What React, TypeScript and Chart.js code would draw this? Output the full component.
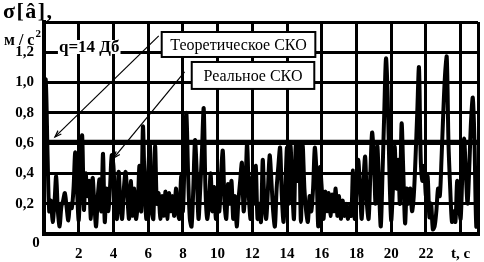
import React, { useEffect, useRef } from 'react';
import { Chart, registerables } from 'chart.js';

Chart.register(...registerables);

// ---- data ----
const TIME_STEP = 0.1;
const realSko = [
  0.98, 1.02, 0.55, 0.15, 0.22, 0.08, 0.20, 0.38, 0.15, 0.05,
  0.18, 0.22, 0.27, 0.18, 0.09, 0.20, 0.17, 0.30, 0.54, 0.30,
  0.09, 0.40, 0.65, 0.16, 0.40, 0.25, 0.35, 0.10, 0.37, 0.20,
  0.05, 0.25, 0.36, 0.15, 0.53, 0.08, 0.30, 0.15, 0.30, 0.52,
  0.45, 0.20, 0.10, 0.41, 0.20, 0.10, 0.30, 0.41, 0.25, 0.10,
  0.35, 0.12, 0.30, 0.10, 0.20, 0.45, 0.15, 0.71, 0.30, 0.10,
  0.40, 0.59, 0.15, 0.10, 0.58, 0.20, 0.27, 0.10, 0.25, 0.12,
  0.28, 0.10, 0.27, 0.15, 0.25, 0.12, 0.30, 0.15, 0.10, 0.38,
  0.15, 0.50, 0.80, 0.40, 0.10, 0.05, 0.30, 0.62, 0.40, 0.10,
  0.30, 0.55, 0.83, 0.30, 0.10, 0.20, 0.40, 0.15, 0.31, 0.10,
  0.25, 0.15, 0.40, 0.55, 0.20, 0.10, 0.33, 0.20, 0.35, 0.10,
  0.25, 0.05, 0.22, 0.35, 0.47, 0.15, 0.30, 0.60, 0.25, 0.10,
  0.38, 0.20, 0.45, 0.10, 0.20, 0.08, 0.49, 0.20, 0.10, 0.30,
  0.52, 0.35, 0.15, 0.05, 0.30, 0.45, 0.57, 0.25, 0.08, 0.30,
  0.57, 0.20, 0.58, 0.30, 0.10, 0.58, 0.35, 0.58, 0.08, 0.58,
  0.30, 0.15, 0.08, 0.25, 0.15, 0.30, 0.57, 0.40, 0.05, 0.44,
  0.30, 0.10, 0.28, 0.15, 0.27, 0.12, 0.26, 0.15, 0.30, 0.12,
  0.25, 0.10, 0.22, 0.12, 0.20, 0.10, 0.18, 0.12, 0.42, 0.10,
  0.30, 0.49, 0.30, 0.10, 0.35, 0.51, 0.20, 0.10, 0.40, 0.67,
  0.50, 0.20, 0.58, 0.30, 0.05, 0.40, 0.80, 1.16, 0.90, 0.40,
  0.09, 0.30, 0.58, 0.30, 0.49, 0.20, 0.73, 0.40, 0.07, 0.30,
  0.20, 0.30, 0.15, 0.25, 0.50, 0.80, 1.10, 0.50, 0.35, 0.45,
  0.25, 0.38, 0.11, 0.20, 0.03, 0.05, 0.15, 0.30, 0.25, 0.50,
  0.80, 1.05, 1.17, 0.60, 0.30, 0.08, 0.15, 0.08, 0.35, 0.20,
  0.10, 0.40, 0.63, 0.40, 0.20, 0.45, 0.75, 0.90, 0.60, 0.05,
  0.10,
];
const times = realSko.map((_, i) => Math.round(i * TIME_STEP * 10) / 10);
const theoreticalSko = 0.61;
const theoreticalSpan = [0, 25];

const xTicks = [0, 2, 4, 6, 8, 10, 12, 14, 16, 18, 20, 22, 24, 25];
const xTickLabels = ['', '2', '4', '6', '8', '10', '12', '14', '16', '18', '20', '22', 't, c', ''];
const yTicks = [0, 0.2, 0.4, 0.6, 0.8, 1.0, 1.2, 1.4];
const yTickLabels = ['', '0,2', '0,4', '0,6', '0,8', '1,0', '1,2', ''];

const noteText = 'q=14 Дб';
const boxTheory = 'Теоретическое СКО';
const boxReal = 'Реальное СКО';
const yTitle = 'σ[â],';
const yUnit = 'м / с';

const SERIF = '"Liberation Serif", "Times New Roman", serif';

const overlayPlugin = {
  id: 'overlay',
  afterDraw(chart: any) {
    const { ctx } = chart;
    const xs = chart.scales.x;
    const ys = chart.scales.y;
    const px = (v: number) => xs.getPixelForValue(v);
    const py = (v: number) => ys.getPixelForValue(v);
    ctx.save();
    ctx.fillStyle = '#000';
    ctx.strokeStyle = '#000';

    // leader lines with arrow heads
    const leader = (x1: number, y1: number, x2: number, y2: number) => {
      const ax = px(x1), ay = py(y1), bx = px(x2), by = py(y2);
      ctx.lineWidth = 1.2;
      ctx.beginPath();
      ctx.moveTo(ax, ay);
      ctx.lineTo(bx, by);
      ctx.stroke();
      const ang = Math.atan2(by - ay, bx - ax);
      ctx.beginPath();
      ctx.moveTo(bx - 7 * Math.cos(ang - 0.35), by - 7 * Math.sin(ang - 0.35));
      ctx.lineTo(bx, by);
      ctx.lineTo(bx - 7 * Math.cos(ang + 0.35), by - 7 * Math.sin(ang + 0.35));
      ctx.stroke();
    };
    leader(6.61, 1.308, 0.63, 0.641);
    leader(8.1, 1.07, 4.02, 0.502);

    // boxes
    const box = (x1: number, y1: number, x2: number, y2: number, text: string) => {
      const l = px(x1), t = py(y1), r = px(x2), b = py(y2);
      ctx.fillStyle = '#fff';
      ctx.fillRect(l, t, r - l, b - t);
      ctx.lineWidth = 2;
      ctx.strokeStyle = '#000';
      ctx.strokeRect(l, t, r - l, b - t);
      ctx.fillStyle = '#000';
      ctx.font = '16px ' + SERIF;
      ctx.textAlign = 'center';
      ctx.textBaseline = 'middle';
      ctx.fillText(text, (l + r) / 2, (t + b) / 2 + 1);
    };
    box(6.78, 1.334, 15.63, 1.169, boxTheory);
    box(8.51, 1.136, 15.57, 0.958, boxReal);

    // note with white background
    ctx.font = 'bold 17px ' + SERIF;
    ctx.textAlign = 'left';
    ctx.textBaseline = 'middle';
    const nx = px(0.86), ny = py(1.235);
    const nw = ctx.measureText(noteText).width;
    ctx.fillStyle = '#fff';
    ctx.fillRect(nx - 1, ny - 7, nw + 2, 14);
    ctx.fillStyle = '#000';
    ctx.fillText(noteText, nx, ny + 1);

    // origin label
    ctx.font = 'bold 15px ' + SERIF;
    ctx.textAlign = 'center';
    ctx.fillText('0', xs.left - 8, ys.bottom + 9);

    // axis title
    ctx.textAlign = 'left';
    ctx.textBaseline = 'alphabetic';
    ctx.font = 'bold 22px ' + SERIF;
    (ctx as any).letterSpacing = '1.5px';
    ctx.fillText(yTitle, 3, 18);
    ctx.font = 'bold 16px ' + SERIF;
    (ctx as any).letterSpacing = '0px';
    ctx.fillText(yUnit, 4, 45);
    const w = ctx.measureText(yUnit).width;
    ctx.font = 'bold 11px ' + SERIF;
    ctx.fillText('2', 4 + w + 1, 37);

    ctx.restore();
  },
};

export default function App() {
  const ref = useRef<HTMLCanvasElement | null>(null);
  useEffect(() => {
    if (!ref.current) return;
    const chart = new Chart(ref.current, {
      type: 'line',
      data: {
        datasets: [
          {
            label: 'Реальное СКО',
            data: times.map((t, i) => ({ x: t, y: realSko[i] })),
            borderColor: '#000',
            borderWidth: 4,
            pointRadius: 0,
            tension: 0.3,
            fill: false,
          },
          {
            label: 'Теоретическое СКО',
            data: theoreticalSpan.map((t) => ({ x: t, y: theoreticalSko })),
            borderColor: '#000',
            borderWidth: 4,
            pointRadius: 0,
            fill: false,
          },
        ],
      },
      options: {
        responsive: false,
        animation: false,
        events: [],
        layout: { padding: { top: 22, right: 6, left: 0, bottom: 0 } },
        plugins: { legend: { display: false }, tooltip: { enabled: false } },
        scales: {
          x: {
            type: 'linear',
            min: 0,
            max: 25,
            afterBuildTicks: (s: any) => {
              s.ticks = xTicks.map((v) => ({ value: v }));
            },
            afterFit: (s: any) => {
              s.height = 28;
              s.paddingRight = 0;
              s.paddingLeft = 0;
            },
            ticks: {
              autoSkip: false,
              maxRotation: 0,
              padding: 11,
              color: '#000',
              font: { family: SERIF, size: 15, weight: 'bold' },
              callback: (_v: any, i: number) => xTickLabels[i],
            },
            grid: { color: '#000', lineWidth: 3, drawTicks: false },
            border: { color: '#000', width: 4 },
          },
          y: {
            type: 'linear',
            min: 0,
            max: 1.4,
            afterBuildTicks: (s: any) => {
              s.ticks = yTicks.map((v) => ({ value: v }));
            },
            afterFit: (s: any) => {
              s.width = 44;
              s.paddingTop = 0;
              s.paddingBottom = 0;
            },
            ticks: {
              padding: 10,
              color: '#000',
              font: { family: SERIF, size: 15, weight: 'bold' },
              callback: (_v: any, i: number) => yTickLabels[i],
            },
            grid: { color: '#000', lineWidth: 3, drawTicks: false },
            border: { color: '#000', width: 4 },
          },
        },
      },
      plugins: [overlayPlugin],
    });
    return () => chart.destroy();
  }, []);
  return (
    <div style={{ position: 'fixed', left: 0, top: 0, width: 484, height: 262, background: '#fff' }}>
      <canvas ref={ref} width={484} height={262} style={{ display: 'block' }} />
    </div>
  );
}
